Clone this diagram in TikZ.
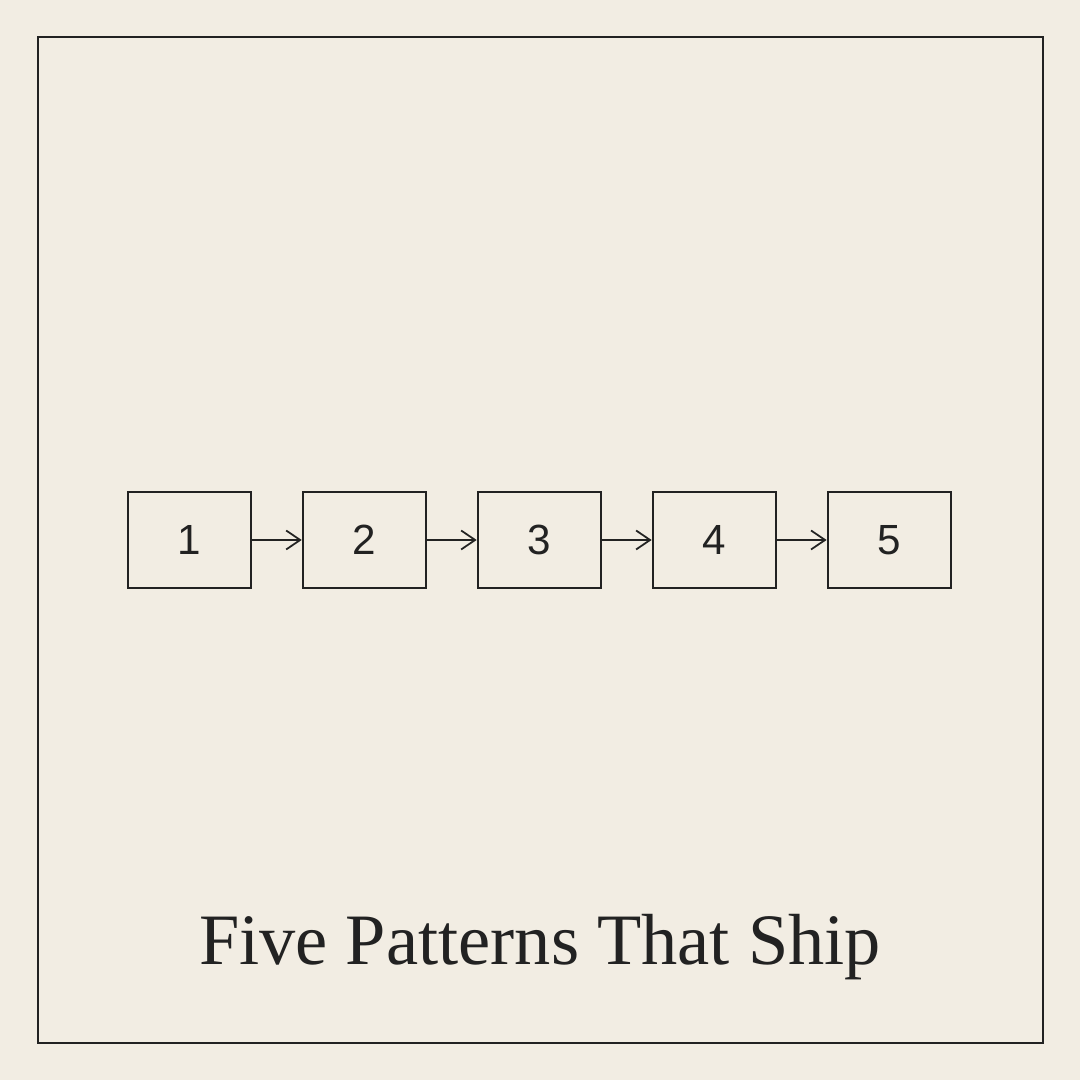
\documentclass[tikz,border=0pt]{standalone}
\usepackage{fontspec}
\setmainfont{Liberation Serif}
\newfontfamily\digitfont{Liberation Sans}
\usetikzlibrary{arrows.meta, positioning}
\usepackage{xcolor}
\definecolor{paper}{HTML}{F2EDE3}
\definecolor{ink}{HTML}{222222}

\begin{document}
\begin{tikzpicture}[
node distance=0.495cm,
box/.style={draw=ink,
rectangle,
line width=0.7pt,
minimum width=1.23cm,
minimum height=0.96cm,
font=\digitfont\fontsize{12}{14}\selectfont,
text=ink,
align=center},
arrow/.style={-{Straight Barb[length=1.4mm, width=1.9mm]}, draw=ink, line width=0.5pt}
]

\fill[paper] (0,0) rectangle (10.8,10.8);
\useasboundingbox (0,0) rectangle (10.8,10.8);
\draw[ink, line width=0.8pt] (0.38,0.37) rectangle (10.43,10.43);

\node[box] (pat1) at (1.895,5.40) {1};
\node[box, right=of pat1] (pat2) {2};
\node[box, right=of pat2] (pat3) {3};
\node[box, right=of pat3] (pat4) {4};
\node[box, right=of pat4] (pat5) {5};

\draw[arrow] (pat1) -- (pat2);
\draw[arrow] (pat2) -- (pat3);
\draw[arrow] (pat3) -- (pat4);
\draw[arrow] (pat4) -- (pat5);

\node[text=ink, font=\fontsize{20.6}{25}\selectfont, anchor=base] (title) at (5.40,1.15) {Five Patterns That Ship};

\end{tikzpicture}
\end{document}
